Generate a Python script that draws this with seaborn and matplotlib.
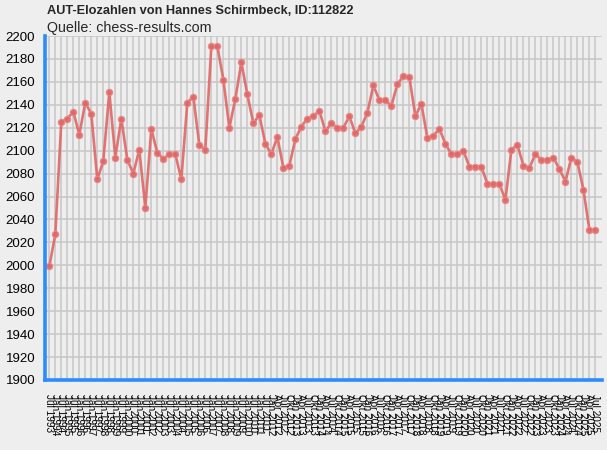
import matplotlib
matplotlib.use("Agg")
import matplotlib.pyplot as plt
import numpy as np
import pandas as pd
import seaborn as sns

# ─── Data ─────────────────────────────────────────────────────────────────────
# halbjährliche Listen Jul 1993 .. Jul 2011, danach quartalsweise Jan 2012 .. Jul 2025
semi_years = [1993] + [y for y in range(1994, 2012) for _ in (0, 1)]
semi_months = ["Jul"] + ["Jan", "Jul"] * 18
quarter_years = [y for y in range(2012, 2025) for _ in range(4)] + [2025, 2025, 2025]
quarter_months = ["Jan", "Apr", "Jul", "Okt"] * 13 + ["Jan", "Apr", "Jul"]

labels = [f"{m} {y}" for m, y in zip(semi_months + quarter_months, semi_years + quarter_years)]

elo = [
    1999, 2027, 2125, 2128, 2134, 2114, 2142, 2132, 2075, 2091,
    2151, 2094, 2128, 2092, 2080, 2101, 2050, 2119, 2098, 2093,
    2097, 2097, 2075, 2142, 2147, 2105, 2101, 2191, 2191, 2162,
    2120, 2145, 2177, 2149, 2124, 2131, 2106, 2097, 2112, 2085,
    2087, 2110, 2121, 2128, 2130, 2135, 2117, 2124, 2120, 2120,
    2130, 2115, 2121, 2133, 2157, 2144, 2144, 2139, 2158, 2165,
    2164, 2130, 2141, 2111, 2113, 2119, 2106, 2097, 2097, 2100,
    2086, 2086, 2086, 2071, 2071, 2071, 2057, 2101, 2105, 2087,
    2085, 2097, 2092, 2092, 2094, 2084, 2073, 2094, 2090, 2066,
    2031, 2031,
]

df = pd.DataFrame({"pos": np.arange(len(elo)), "elo": elo, "label": labels})

# ─── Style ────────────────────────────────────────────────────────────────────
BG = "#EEEEEE"
BLUE = "#2A8CFF"
sns.set_style("whitegrid", {
    "axes.facecolor": BG,
    "figure.facecolor": BG,
    "grid.color": "#C6C6C6",
    "axes.edgecolor": BLUE,
})
plt.rcParams["font.family"] = ["Liberation Sans", "DejaVu Sans"]

fig = plt.figure(figsize=(6.07, 4.5), dpi=100)
ax = fig.add_axes([0.0741, 0.1556, 0.9177, 0.7644])

sns.lineplot(
    data=df, x="pos", y="elo", ax=ax,
    color="#E06666", linewidth=1.9, alpha=0.9,
    marker="o", markersize=4.6, markeredgecolor="#E98585", markeredgewidth=0.8,
)

ax.set_xlim(-0.72, 92.1)
ax.set_ylim(1900, 2200)
ax.set_yticks(np.arange(1900, 2201, 20))
ax.set_xticks(df["pos"])
ax.set_xticklabels(df["label"], rotation=-90, fontsize=7.2, ha="center", va="top")
ax.tick_params(axis="y", labelsize=9.5, colors=BLUE, length=5, width=2, labelcolor="black", pad=2)
ax.tick_params(axis="x", colors=BLUE, length=6, width=2, labelcolor="black", pad=4)
ax.set_xlabel("")
ax.set_ylabel("")
ax.grid(True, color="#C6C6C6", linewidth=1.1)

for side in ("top", "right"):
    ax.spines[side].set_visible(False)
for side in ("left", "bottom"):
    ax.spines[side].set_color(BLUE)
    ax.spines[side].set_linewidth(2.6)

fig.text(0.0775, 0.99, "AUT-Elozahlen von Hannes Schirmbeck, ID:112822",
         fontsize=9.2, fontweight="bold", ha="left", va="top")
fig.text(0.0775, 0.954, "Quelle: chess-results.com", fontsize=10.3, ha="left", va="top")

fig.savefig("out.png", dpi=100, facecolor=BG)
